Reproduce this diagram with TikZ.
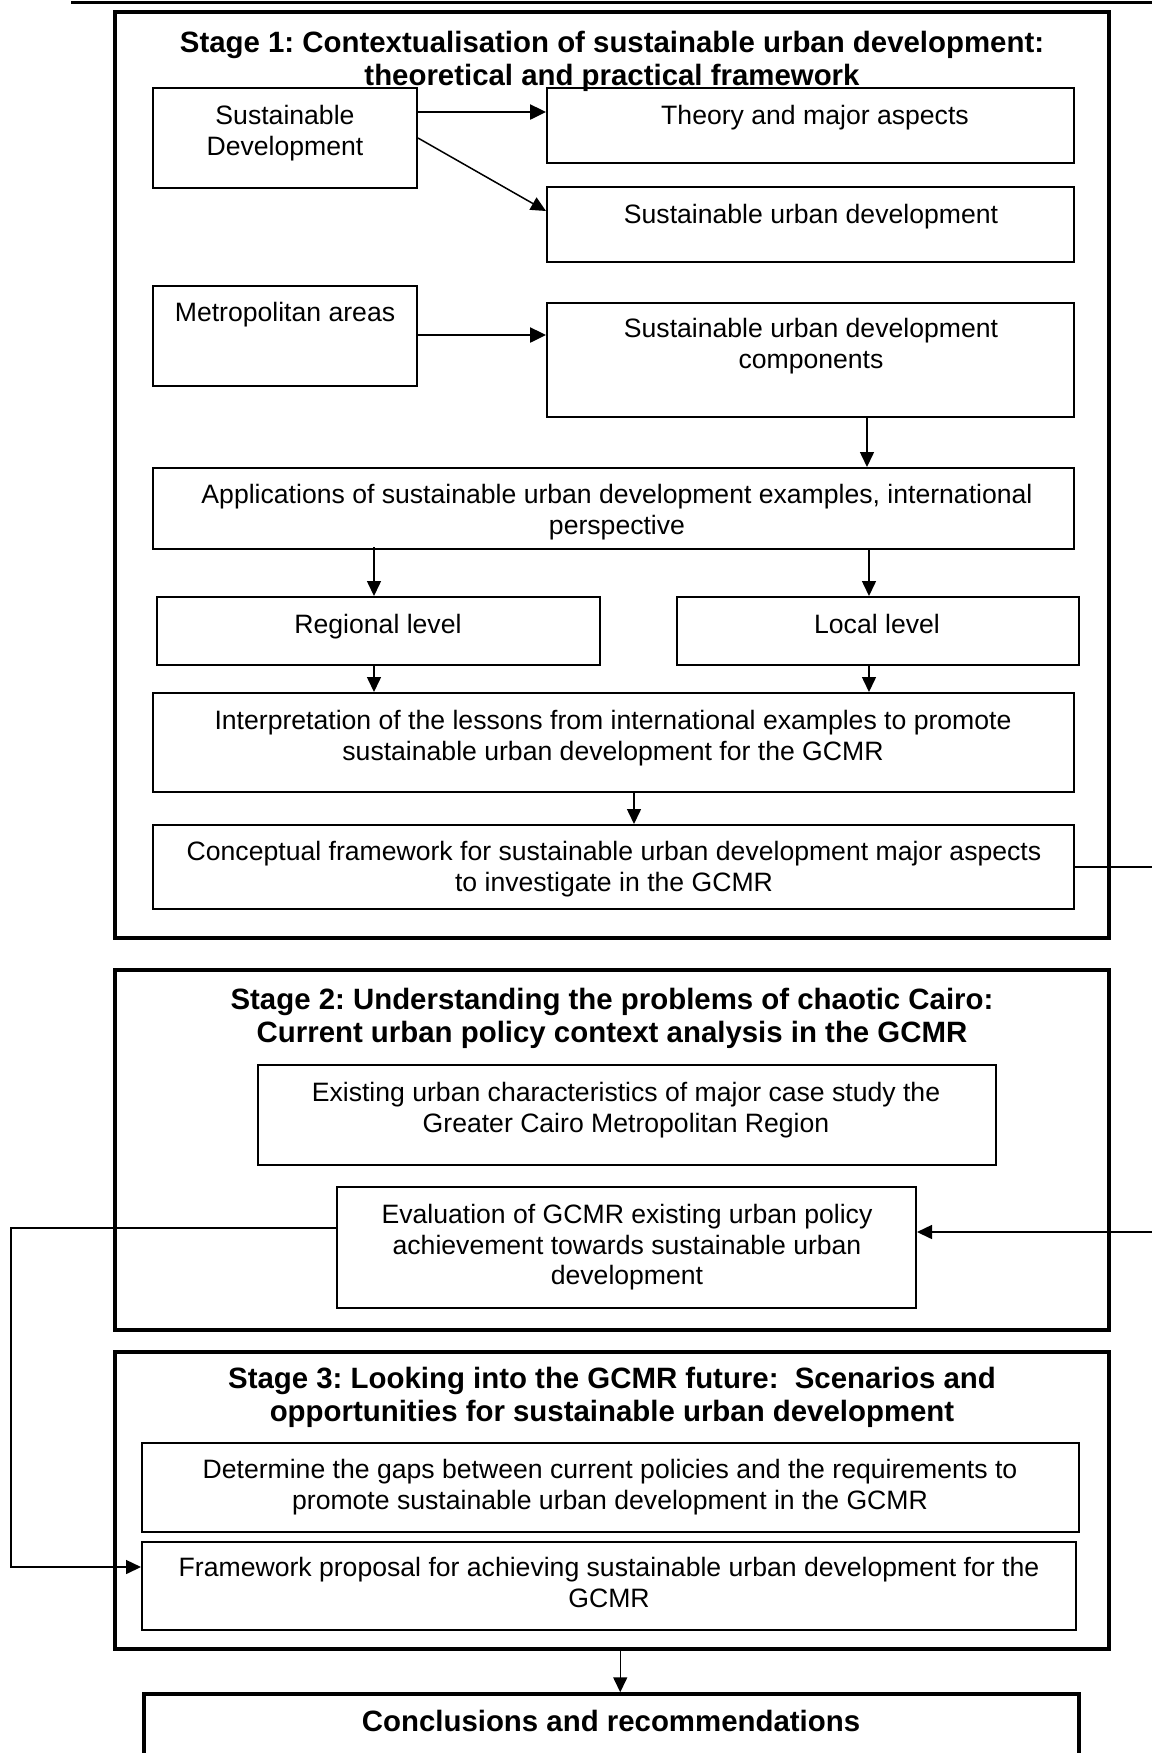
\documentclass[tikz,border=0pt]{standalone}
\usepackage{fontspec}
\setmainfont{Liberation Sans}
\usetikzlibrary{arrows.meta,fit,calc}
\frenchspacing

\begin{document}
\begin{tikzpicture}[x=0.5pt,y=-0.5pt,
  box/.style={draw, line width=1pt, inner sep=0pt},
  stagebox/.style={draw, line width=1.75pt, inner sep=0pt},
  txt/.style={anchor=north, inner sep=0pt, align=center,
    font=\fontsize{13.3}{15.3}\selectfont},
  ttl/.style={anchor=north, inner sep=0pt, align=center,
    font=\fontsize{14.7}{16.4}\selectfont\bfseries},
  arr/.style={-{Triangle[length=7.5pt,width=7pt]}, line width=0.75pt},
  arrthick/.style={-{Triangle[length=8pt,width=7.5pt]}, line width=1.25pt}]

% page frame
\clip (0,0) rectangle (1152,1753);
\fill[white] (0,0) rectangle (1152,1753);

% rule at the top of the page
\draw[line width=1.5pt] (71,2.5) -- (1152,2.5);

% ---------- Stage 1 ----------
\node[stagebox, fit={(115,12) (1109,938)}] (stage1) {};
\node[ttl] (stage1-t) at (612,30) {\rule{0pt}{11pt}Stage 1: Contextualisation of sustainable urban development:\\theoretical and practical framework};

\node[box, fit={(153,88) (417,188)}] (sd) {};
\node[txt] (sd-t) at (285,104) {\rule{0pt}{10pt}Sustainable\\Development};

\node[box, fit={(547,88) (1074,163)}] (theory) {};
\node[txt] (theory-t) at (815,104) {\rule{0pt}{10pt}Theory and major aspects};

\node[box, fit={(547,187) (1074,262)}] (sud) {};
\node[txt] (sud-t) at (811,203) {\rule{0pt}{10pt}Sustainable urban development};

\node[box, fit={(153,286) (417,386)}] (metro) {};
\node[txt] (metro-t) at (285,301) {\rule{0pt}{10pt}Metropolitan areas};

\node[box, fit={(547,303) (1074,417)}] (comp) {};
\node[txt] (comp-t) at (811,317) {\rule{0pt}{10pt}Sustainable urban development\\components};

\node[box, fit={(153,468) (1074,549)}] (app) {};
\node[txt] (app-t) at (617,483) {\rule{0pt}{10pt}Applications of sustainable urban development examples, international\\perspective};

\node[box, fit={(157,597) (600,665)}] (reg) {};
\node[txt] (reg-t) at (378,613) {\rule{0pt}{10pt}Regional level};

\node[box, fit={(677,597) (1079,665)}] (loc) {};
\node[txt] (loc-t) at (877,613) {\rule{0pt}{10pt}Local level};

\node[box, fit={(153,693) (1074,792)}] (interp) {};
\node[txt] (interp-t) at (613,709) {\rule{0pt}{10pt}Interpretation of the lessons from international examples to promote\\sustainable urban development for the GCMR};

\node[box, fit={(153,825) (1074,909)}] (concept) {};
\node[txt] (concept-t) at (614,840) {\rule{0pt}{10pt}Conceptual framework for sustainable urban development major aspects\\to investigate in the GCMR};

% ---------- Stage 2 ----------
\node[stagebox, fit={(115,970) (1109,1330)}] (stage2) {};
\node[ttl] (stage2-t) at (612,987) {\rule{0pt}{11pt}Stage 2: Understanding the problems of chaotic Cairo:\\Current urban policy context analysis in the GCMR};

\node[box, fit={(258,1065) (996,1165)}] (exist) {};
\node[txt] (exist-t) at (626,1081) {\rule{0pt}{10pt}Existing urban characteristics of major case study the\\Greater Cairo Metropolitan Region};

\node[box, fit={(337,1187) (916,1308)}] (eval) {};
\node[txt] (eval-t) at (627,1203) {\rule{0pt}{10pt}Evaluation of GCMR existing urban policy\\achievement towards sustainable urban\\development};

% ---------- Stage 3 ----------
\node[stagebox, fit={(115,1352) (1109,1649)}] (stage3) {};
\node[ttl] (stage3-t) at (612,1366) {\rule{0pt}{11pt}Stage 3: Looking into the GCMR future:\ \ Scenarios and\\opportunities for sustainable urban development};

\node[box, fit={(142,1443) (1079,1532)}] (gaps) {};
\node[txt] (gaps-t) at (610,1458) {\rule{0pt}{10pt}Determine the gaps between current policies and the requirements to\\promote sustainable urban development in the GCMR};

\node[box, fit={(142,1542) (1076,1630)}] (frame) {};
\node[txt] (frame-t) at (609,1556) {\rule{0pt}{10pt}Framework proposal for achieving sustainable urban development for the\\GCMR};

% ---------- Conclusions ----------
\node[stagebox, fit={(144,1694) (1079,1800)}] (concl) {};
\node[ttl] (concl-t) at (611,1709) {\rule{0pt}{11pt}Conclusions and recommendations};

% ---------- connectors ----------
\coordinate (sd1) at ($(sd.north east)+(0,25)$);
\draw[arrthick] (sd1) -- (sd1 -| theory.west);
\draw[arr] (sd.east) -- ($(sud.north west)+(0,25)$);

\draw[arrthick] ($(metro.north east)+(0,50)$) coordinate (m1) -- (m1 -| comp.west);

\coordinate (c1) at ($(comp.south west)+(321,0)$);
\draw[arr] (c1) -- (c1 |- app.north);

\coordinate (a1) at ($(app.south west)+(222,-3)$);
\coordinate (a2) at ($(app.south west)+(717,0)$);
\draw[arr] (a1) -- (a1 |- reg.north);
\draw[arr] (a2) -- (a2 |- loc.north);

\coordinate (r1) at ($(reg.south west)+(218,0)$);
\coordinate (l1) at ($(loc.south west)+(193,0)$);
\draw[arr] (r1) -- (r1 |- interp.north);
\draw[arr] (l1) -- (l1 |- interp.north);

\coordinate (i1) at ($(interp.south west)+(482,0)$);
\draw[arr] (i1) -- (i1 |- concept.north);

% feedback from the conceptual framework to the policy evaluation
\coordinate (rt) at (1170,1000);
\coordinate (e2) at ($(eval.north east)+(0,46)$);
\draw[arr] (concept.east) -| (rt) |- (e2);

% evaluation feeds the framework proposal
\coordinate (lft) at (11,1400);
\coordinate (e1) at ($(eval.north west)+(0,42)$);
\coordinate (f1) at ($(frame.north west)+(0,26)$);
\draw[arr] (e1) -| (lft) |- (f1);

\coordinate (s3) at ($(stage3.south west)+(507,0)$);
\draw[arr] (s3) -- (s3 |- concl.north);

\end{tikzpicture}
\end{document}
